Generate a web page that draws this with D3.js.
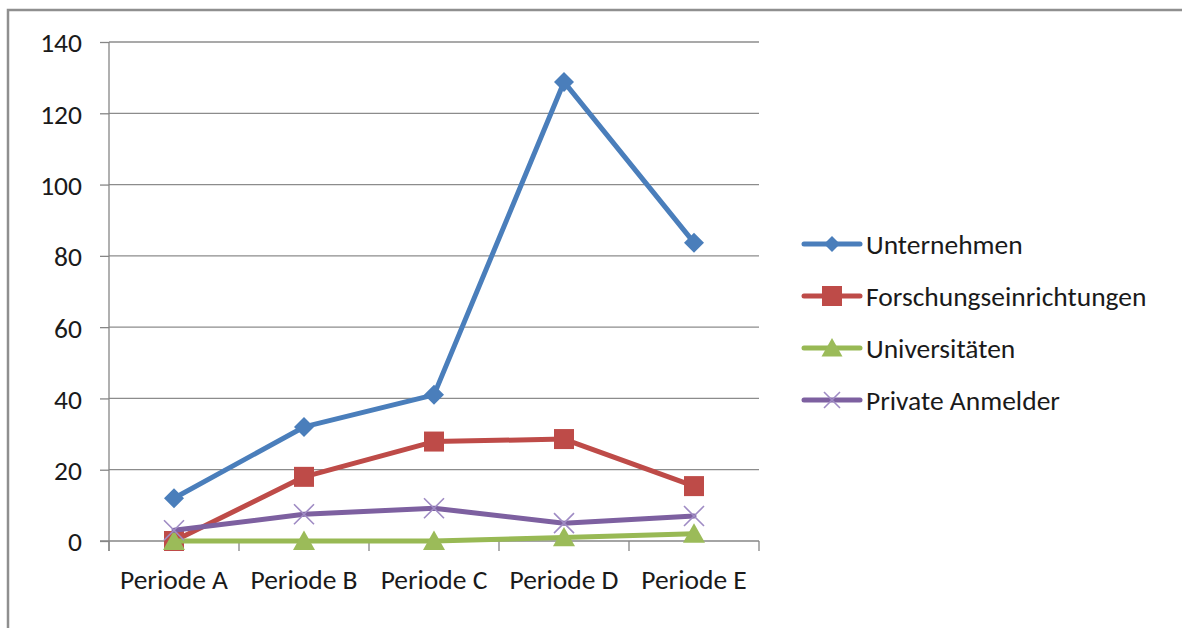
<!DOCTYPE html>
<html>
<head>
<meta charset="utf-8">
<script src="https://cdn.jsdelivr.net/npm/d3@7"></script>
<style>
  html, body { margin: 0; padding: 0; background: #fff; }
  svg { display: block; font-family: Carlito, Lato, "Open Sans", sans-serif; }
</style>
</head>
<body>
<svg id="chart" width="1182" height="628"></svg>
<script>
// Categories and series values
const categories = ["Periode A", "Periode B", "Periode C", "Periode D", "Periode E"];
const unternehmen = [12, 32, 41, 128.8, 83.7];
const forschung = [0, 18, 27.9, 28.6, 15.4];
const universitaeten = [0, 0, 0, 1, 2];
const privat = [3, 7.5, 9.2, 5, 7];
const seriesNames = ["Unternehmen", "Forschungseinrichtungen", "Universitäten", "Private Anmelder"];
const yTicks = [0, 20, 40, 60, 80, 100, 120, 140];

const seriesStyle = [
  { values: unternehmen, line: "#4a7ebb", fill: "#4a7ebb", marker: "diamond" },
  { values: forschung, line: "#be4b48", fill: "#be4b48", marker: "square" },
  { values: universitaeten, line: "#98b954", fill: "#9bbb59", marker: "triangle" },
  { values: privat, line: "#7d60a0", fill: "#9f8bc4", marker: "cross" }
];

const svg = d3.select("#chart");
const fontSize = 27.5;

// outer frame of the chart area
svg.append("rect")
  .attr("x", 8).attr("y", 10)
  .attr("width", 1200).attr("height", 640)
  .attr("fill", "none").attr("stroke", "#8f8f8f").attr("stroke-width", 2.5);

const x = d3.scaleBand().domain(categories).range([109, 759]);
const y = d3.scaleLinear().domain([0, 140]).range([541, 42]);

// horizontal gridlines
svg.append("g").selectAll("line").data(yTicks.filter(d => d > 0)).join("line")
  .attr("x1", 109).attr("x2", 759)
  .attr("y1", d => y(d)).attr("y2", d => y(d))
  .attr("stroke", "#8c8c8c").attr("stroke-width", 1.3);

// y axis
const yAxis = d3.axisLeft(y).tickValues(yTicks).tickSize(9).tickPadding(18);
const gy = svg.append("g").attr("transform", "translate(109,0)").call(yAxis);
gy.select(".domain").attr("d", `M0,${y(140)}V${y(0) + 10}`);

// x axis with tick marks on category boundaries
const xAxis = d3.axisBottom(x).tickSize(0).tickPadding(29);
const gx = svg.append("g").attr("transform", `translate(0,${y(0)})`).call(xAxis);
gx.select(".domain").attr("d", `M${x.range()[0] - 9},0H${x.range()[1]}`);
const bounds = categories.map(c => x(c)).concat([x.range()[1]]);
gx.selectAll(".bound").data(bounds).join("line").attr("class", "bound")
  .attr("x1", d => d).attr("x2", d => d).attr("y1", 0).attr("y2", 10)
  .attr("stroke", "#868686").attr("stroke-width", 1.3);

[gx, gy].forEach(g => {
  g.selectAll(".domain, .tick line").attr("stroke", "#868686").attr("stroke-width", 1.3);
  g.selectAll("text").attr("font-size", fontSize).attr("fill", "#1a1a1a")
    .attr("font-family", "Carlito, Lato, sans-serif");
});
gy.selectAll("text").attr("dy", "0.36em");
gx.selectAll("text").attr("dy", "0.7em");

const cx = c => x(c) + x.bandwidth() / 2;

function drawMarker(g, type, px, py, s, fill) {
  if (type === "diamond") {
    g.append("path").attr("d", `M${px},${py - s}L${px + s},${py}L${px},${py + s}L${px - s},${py}Z`).attr("fill", fill);
  } else if (type === "square") {
    g.append("rect").attr("x", px - s).attr("y", py - s).attr("width", 2 * s).attr("height", 2 * s).attr("fill", fill);
  } else if (type === "triangle") {
    g.append("path").attr("d", `M${px},${py - s}L${px + s * 1.05},${py + s * 0.85}L${px - s * 1.05},${py + s * 0.85}Z`).attr("fill", fill);
  } else {
    g.append("path").attr("d", `M${px - s},${py - s}L${px + s},${py + s}M${px - s},${py + s}L${px + s},${py - s}`)
      .attr("stroke", fill).attr("stroke-width", 1.6).attr("fill", "none");
  }
}

const line = d3.line().x((d, i) => cx(categories[i])).y(d => y(d));
const markerSize = { diamond: 10, square: 10, triangle: 10.5, cross: 10 };

seriesStyle.forEach(s => {
  const g = svg.append("g");
  g.append("path").attr("d", line(s.values))
    .attr("fill", "none").attr("stroke", s.line).attr("stroke-width", 5)
    .attr("stroke-linejoin", "round").attr("stroke-linecap", "round");
  s.values.forEach((v, i) => drawMarker(g, s.marker, cx(categories[i]), y(v), markerSize[s.marker], s.fill));
});

// legend
const legendY = [244, 296, 348, 400];
const legendMarker = { diamond: 8, square: 10, triangle: 10, cross: 8 };
seriesStyle.forEach((s, i) => {
  const g = svg.append("g");
  g.append("line").attr("x1", 804).attr("x2", 860).attr("y1", legendY[i]).attr("y2", legendY[i])
    .attr("stroke", s.line).attr("stroke-width", 5).attr("stroke-linecap", "round");
  drawMarker(g, s.marker, 832, legendY[i], legendMarker[s.marker], s.fill);
  g.append("text").attr("x", 866).attr("y", legendY[i]).attr("dy", "0.36em")
    .attr("font-size", fontSize).attr("fill", "#1a1a1a").text(seriesNames[i]);
});
</script>
</body>
</html>
